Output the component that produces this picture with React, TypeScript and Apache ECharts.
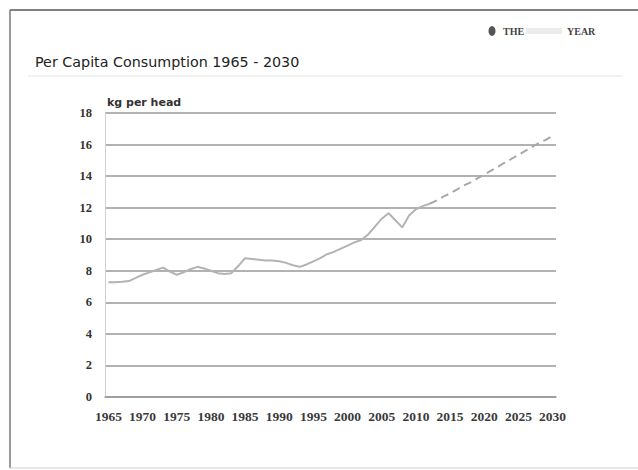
import React, { useEffect, useRef } from "react";
import * as echarts from "echarts";

const years: string[] = [];
for (let y = 1965; y <= 2030; y++) years.push(String(y));

// Actual per capita consumption, 1965-2012 (kg per head)
const actual: number[] = [
  7.27, 7.27, 7.3, 7.35, 7.55, 7.75, 7.9, 8.05, 8.2, 7.95,
  7.75, 7.9, 8.1, 8.25, 8.15, 8.0, 7.85, 7.8, 7.85, 8.3,
  8.8, 8.75, 8.7, 8.65, 8.65, 8.6, 8.5, 8.35, 8.25, 8.4,
  8.6, 8.8, 9.05, 9.2, 9.4, 9.6, 9.8, 9.95, 10.3, 10.8,
  11.3, 11.65, 11.2, 10.75, 11.5, 11.9, 12.1, 12.25,
];

// Projection, 2012-2030 (kg per head)
const projection: number[] = [
  12.25, 12.45, 12.7, 12.9, 13.15, 13.4, 13.6, 13.85, 14.1, 14.35,
  14.6, 14.85, 15.1, 15.35, 15.6, 15.85, 16.1, 16.3, 16.55,
];

const yTicks = { min: 0, max: 18, interval: 2 };

const titleText = "Per Capita Consumption 1965 - 2030";
const unitText = "kg per head";

export default function App() {
  const ref = useRef<HTMLDivElement>(null);
  useEffect(() => {
    if (!ref.current) return;
    const chart = echarts.init(ref.current, undefined, { renderer: "svg" });
    const n = years.length;
    const actualData: (number | null)[] = years.map((_, i) => (i < actual.length ? actual[i] : null));
    const projStart = n - projection.length;
    const projData: (number | null)[] = years.map((_, i) => (i >= projStart ? projection[i - projStart] : null));

    chart.setOption({
      animation: false,
      backgroundColor: "#ffffff",
      grid: { left: 105, right: 82, top: 113, bottom: 73 },
      xAxis: {
        type: "category",
        data: years,
        boundaryGap: true,
        axisLine: { show: true, lineStyle: { color: "#999", width: 1.5 } },
        axisTick: { show: false },
        axisLabel: {
          interval: 4,
          margin: 12,
          color: "#3a3a3a",
          fontFamily: "Liberation Serif",
          fontWeight: "bold",
          fontSize: 13.5,
        },
        splitLine: { show: false },
      },
      yAxis: {
        type: "value",
        min: yTicks.min,
        max: yTicks.max,
        interval: yTicks.interval,
        axisLine: { show: true, lineStyle: { color: "#d0d0d0", width: 1 } },
        axisTick: { show: false },
        axisLabel: {
          margin: 13,
          color: "#333",
          fontFamily: "Liberation Serif",
          fontWeight: "bold",
          fontSize: 12.5,
        },
        splitLine: { show: true, lineStyle: { color: "#999", width: 1.5 } },
      },
      series: [
        {
          name: "Actual",
          type: "line",
          data: actualData,
          showSymbol: false,
          connectNulls: false,
          lineStyle: { color: "#b3b3b3", width: 2 },
          itemStyle: { color: "#b3b3b3" },
        },
        {
          name: "Projection",
          type: "line",
          data: projData,
          showSymbol: false,
          lineStyle: { color: "#a8a8a8", width: 2, type: [8, 5] },
          itemStyle: { color: "#a8a8a8" },
        },
      ],
      graphic: [
        {
          type: "line",
          shape: { x1: 10, y1: 10, x2: 10, y2: 468 },
          style: { stroke: "#9a9a9a", lineWidth: 2 },
          silent: true,
        },
        {
          type: "line",
          shape: { x1: 10, y1: 468, x2: 638, y2: 468 },
          style: { stroke: "#cfcfcf", lineWidth: 1 },
          silent: true,
        },
        {
          type: "line",
          shape: { x1: 10, y1: 10, x2: 638, y2: 10 },
          style: { stroke: "#808080", lineWidth: 2 },
          silent: true,
        },
        {
          type: "line",
          shape: { x1: 28, y1: 76, x2: 622, y2: 76 },
          style: { stroke: "#e2e2e2", lineWidth: 1 },
          silent: true,
        },
        {
          type: "text",
          x: 35,
          y: 62,
          style: {
            text: titleText,
            fill: "#222",
            font: "14.3px 'DejaVu Sans'",
            textVerticalAlign: "middle",
          },
        },
        {
          type: "text",
          x: 107,
          y: 102,
          style: {
            text: unitText,
            fill: "#333",
            font: "bold 11px 'DejaVu Sans'",
            textVerticalAlign: "middle",
          },
        },
        {
          type: "ellipse",
          shape: { cx: 492, cy: 31, rx: 3.5, ry: 5 },
          style: { fill: "#555" },
          silent: true,
        },
        {
          type: "text",
          x: 503,
          y: 31,
          style: {
            text: "THE",
            fill: "#444",
            font: "bold 10px 'Liberation Serif'",
            textVerticalAlign: "middle",
          },
        },
        {
          type: "rect",
          shape: { x: 526, y: 28, width: 36, height: 6 },
          style: { fill: "#ececec" },
          silent: true,
        },
        {
          type: "text",
          x: 567,
          y: 31,
          style: {
            text: "YEAR",
            fill: "#444",
            font: "bold 10px 'Liberation Serif'",
            textVerticalAlign: "middle",
          },
        },
      ],
    });
    return () => chart.dispose();
  }, []);
  return (
    <div
      ref={ref}
      style={{ position: "fixed", left: 0, top: 0, width: 638, height: 470 }}
    />
  );
}
